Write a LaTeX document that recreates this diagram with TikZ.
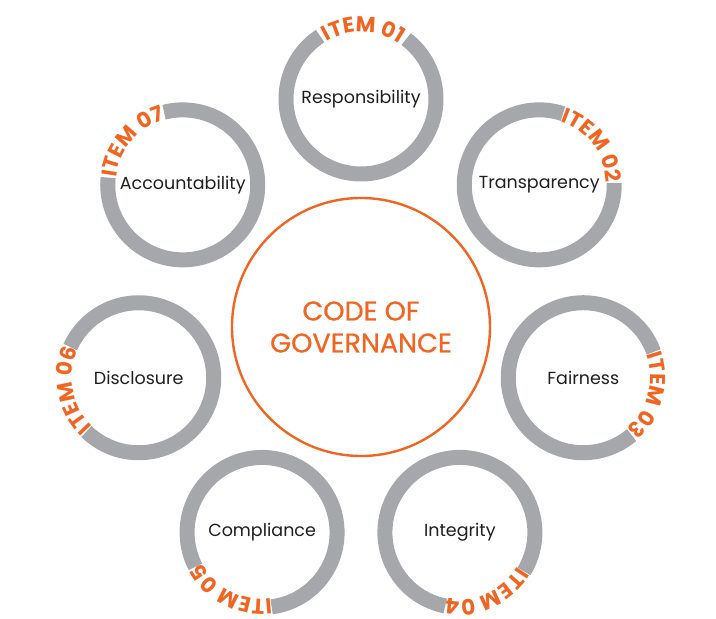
\documentclass[tikz,border=0pt]{standalone}
\usepackage{fontspec}
\setmainfont{Poppins}
\newfontfamily\corefont[FakeBold=0.8]{Poppins}
\usetikzlibrary{decorations.text}
\definecolor{govorange}{RGB}{241,101,34}
\definecolor{ringgray}{RGB}{166,167,171}
\tikzset{
  core/.style    = {circle, draw=govorange, line width=2.4pt, minimum size=258pt,
                    inner sep=0pt, align=center, text=govorange,
                    font=\corefont\fontsize{27}{32}\selectfont},
  hub/.style     = {circle, minimum size=130pt, inner sep=0pt, align=center,
                    text=black!88, font=\fontsize{17.5}{20}\selectfont},
  ringarc/.style = {draw=ringgray, line width=15pt},
  tag/.style     = {decoration={text along path, text align=center,
                    text color=govorange,
                    text={|\fontsize{21.5}{21.5}\selectfont\bfseries|#1}}, decorate}
}

\begin{document}
\begin{tikzpicture}[x=1pt, y=1pt]
    \useasboundingbox (-361,-292) rectangle (355,327);
    \node[core] (core) at (0,0) {CODE OF\\GOVERNANCE};
    % seven items around the core, clockwise from the top
    \node[hub] (r1) at (90:228)     {Responsibility};
    \node[hub] (r2) at (38.57:228)  {Transparency};
    \node[hub] (r3) at (-12.86:228) {Fairness};
    \node[hub] (r4) at (-64.29:228) {Integrity};
    \node[hub] (r5) at (-115.71:228) {Compliance};
    \node[hub] (r6) at (-167.14:228) {Disclosure};
    \node[hub] (r7) at (141.43:228) {Accountability};
    % grey rings, open where the tag sits
    \draw[ringarc] ([shift={(123:75)}]r1.center)    arc[start angle=123,    end angle=413,    radius=75];
    \draw[ringarc] ([shift={(71.57:75)}]r2.center)  arc[start angle=71.57,  end angle=361.57, radius=75];
    \draw[ringarc] ([shift={(20.14:75)}]r3.center)  arc[start angle=20.14,  end angle=310.14, radius=75];
    \draw[ringarc] ([shift={(-31.29:75)}]r4.center) arc[start angle=-31.29, end angle=258.71, radius=75];
    \draw[ringarc] ([shift={(-82.71:75)}]r5.center) arc[start angle=-82.71, end angle=207.29, radius=75];
    \draw[ringarc] ([shift={(-134.14:75)}]r6.center) arc[start angle=-134.14, end angle=155.86, radius=75];
    \draw[ringarc] ([shift={(174.43:75)}]r7.center) arc[start angle=174.43, end angle=464.43, radius=75];
    % tags written clockwise in the gaps
    \path[tag={ITEM 01}] ([shift={(130:67)}]r1.center)     arc[start angle=130,     end angle=46,      radius=67];
    \path[tag={ITEM 02}] ([shift={(78.57:67)}]r2.center)   arc[start angle=78.57,   end angle=-5.43,   radius=67];
    \path[tag={ITEM 03}] ([shift={(27.14:67)}]r3.center)   arc[start angle=27.14,   end angle=-56.86,  radius=67];
    \path[tag={ITEM 04}] ([shift={(-24.29:67)}]r4.center)  arc[start angle=-24.29,  end angle=-108.29, radius=67];
    \path[tag={ITEM 05}] ([shift={(-75.71:67)}]r5.center)  arc[start angle=-75.71,  end angle=-159.71, radius=67];
    \path[tag={ITEM 06}] ([shift={(-127.14:67)}]r6.center) arc[start angle=-127.14, end angle=-211.14, radius=67];
    \path[tag={ITEM 07}] ([shift={(181.43:67)}]r7.center)  arc[start angle=181.43,  end angle=97.43,   radius=67];
\end{tikzpicture}
\end{document}
